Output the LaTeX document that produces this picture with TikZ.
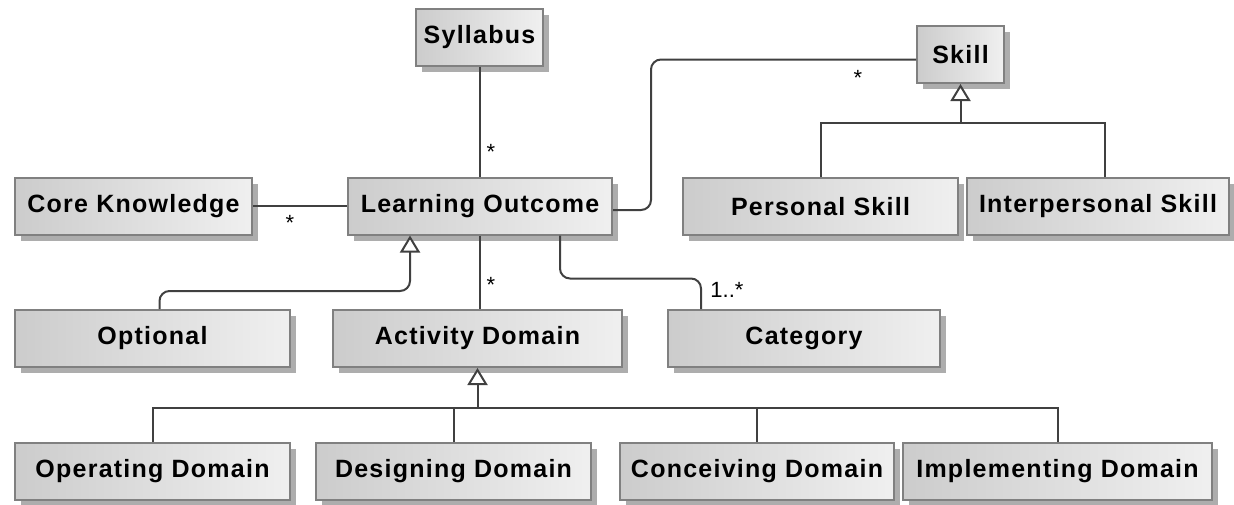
\documentclass[tikz,border=0pt]{standalone}
\usepackage{fontspec}
\newfontfamily\umlfont{Liberation Sans}[LetterSpace=5]
\newfontfamily\multfont{Liberation Sans}
\usetikzlibrary{arrows.meta,shadows,calc,positioning}

\begin{document}
\begin{tikzpicture}[x=1pt,y=-1pt,
	  cls/.style={draw=black!50, line width=2pt, shading angle=45, left color=black!20, right color=black!6,
	    drop shadow={shadow xshift=6pt, shadow yshift=-6pt, fill=black!32, opacity=1},
	    font=\umlfont\bfseries\fontsize{25}{30}\selectfont, inner sep=0pt, minimum height=57pt},
	  assoc/.style={draw=black!75, line width=2pt, rounded corners=10pt},
	  tree/.style={draw=black!75, line width=2pt},
	  gen/.style={assoc, -{Triangle[open, length=17pt, width=20pt, fill=white]}},
	  mult/.style={font=\multfont\fontsize{22}{26}\selectfont, inner sep=0pt}]
	  \useasboundingbox (0,0) rectangle (1234,504);
	  % classes
	  \node[cls, minimum width=127pt] (syl) at (479.5,37) {Syllabus};
	  \node[cls, minimum width=87pt] (skill) at (960.5,54.5) {Skill};
	  \node[cls, minimum width=237pt] (core) at (133.5,206) {Core Knowledge};
	  \node[cls, minimum width=264pt] (lo) at (480,206) {Learning Outcome};
	  \node[cls, minimum width=275pt] (pers) at (820.5,206.5) {Personal Skill};
	  \node[cls, minimum width=262pt] (inter) at (1098,206.5) {Interpersonal Skill};
	  \node[cls, minimum width=275pt] (opt) at (152.5,338.5) {Optional};
	  \node[cls, minimum width=289pt] (act) at (477.5,338.5) {Activity Domain};
	  \node[cls, minimum width=272pt] (cat) at (804,338.5) {Category};
	  \node[cls, minimum width=275pt] (op) at (152.5,471.5) {Operating Domain};
	  \node[cls, minimum width=275pt] (des) at (453.5,471.5) {Designing Domain};
	  \node[cls, minimum width=274pt] (con) at (757,471.5) {Conceiving Domain};
	  \node[cls, minimum width=309pt] (imp) at (1057.5,471.5) {Implementing Domain};
	  % associations
	  \draw[assoc] (syl.south) -- (syl.south |- lo.north);
	  \draw[assoc] (core.east) -- (lo.west);
	  \draw[assoc] ([yshift=-4pt]lo.east) -- ++(38,0) |- ([yshift=-5pt]skill.west);
	  \draw[assoc] (lo.south) -- (lo.south |- act.north);
	  \draw[assoc] ([xshift=80pt]lo.south) -- ++(0,43) -| ([xshift=-103pt]cat.north);
	  \node[mult] (msyl) at (491,152) {*};
	  \node[mult] (mcore) at (290,223) {*};
	  \node[mult] (mskill) at (858,78) {*};
	  \node[mult] (mact) at (491,285) {*};
	  \node[mult] (mcat) at (727,290) {1..*};
	  % generalizations
	  \draw[gen] ([xshift=7pt]opt.north) -- ++(0,-18) -| ([xshift=-70pt]lo.south);
	  \coordinate (sbar) at ($(skill.south)+(0,39)$);
	  \draw[tree] (pers.north) |- (sbar);
	  \draw[tree] ([xshift=7pt]inter.north) |- (sbar);
	  \draw[gen] (sbar) -- (skill.south);
	  \coordinate (abar) at ($(act.south)+(0,40)$);
	  \foreach \c in {op,des,con,imp}
	    \draw[tree] (\c.north) |- (abar);
	  \draw[gen] (abar) -- (act.south);
\end{tikzpicture}
\end{document}
